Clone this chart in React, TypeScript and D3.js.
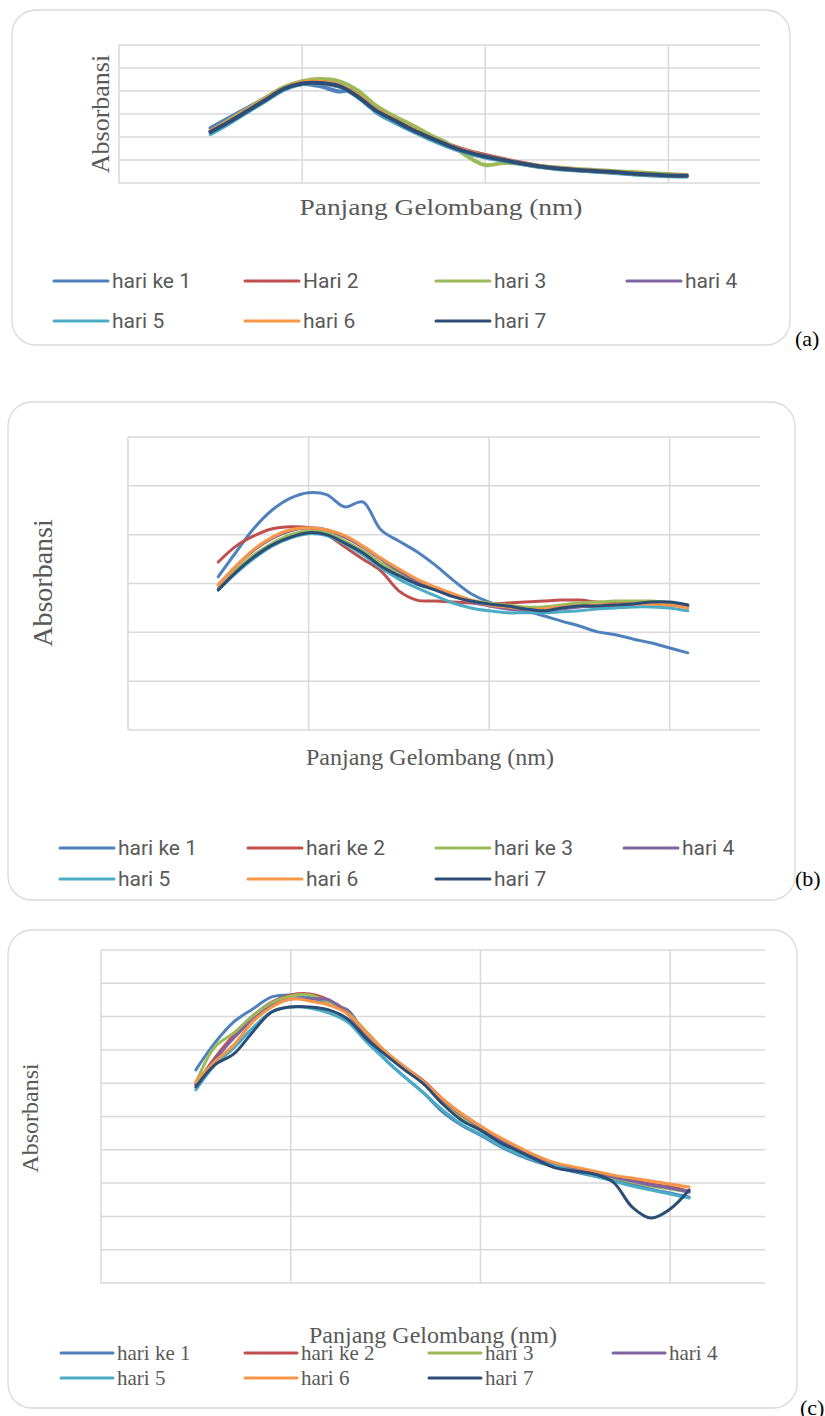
import React from "react";
import * as d3 from "d3";

// wavelength (nm) of every sample, shared by the three charts
const wavelengths = [
  350, 360, 370, 380, 390, 400, 410, 420, 430, 440, 450, 460, 470, 480,
  490, 500, 510, 520, 530, 540, 550, 560, 570, 580, 590, 600, 610,
];
const xGridTicks = [300, 400, 500, 600];

const colors = ["#4F81BD", "#C0504D", "#9BBB59", "#8064A2", "#4BACC6", "#F79646", "#2C4D75"];

// ---- chart (a)
const namesA = ["hari ke 1", "Hari 2", "hari 3", "hari 4", "hari 5", "hari 6", "hari 7"];
const a1 = [0.239, 0.283, 0.326, 0.370, 0.413, 0.430, 0.420, 0.398, 0.402, 0.310, 0.265, 0.226, 0.190, 0.157, 0.130, 0.113, 0.098, 0.083, 0.071, 0.062, 0.056, 0.050, 0.045, 0.039, 0.035, 0.031, 0.029];
const a2 = [0.226, 0.270, 0.317, 0.363, 0.409, 0.432, 0.433, 0.420, 0.380, 0.322, 0.278, 0.236, 0.200, 0.168, 0.142, 0.122, 0.104, 0.088, 0.074, 0.064, 0.058, 0.053, 0.048, 0.042, 0.038, 0.034, 0.033];
const a3 = [0.226, 0.274, 0.322, 0.370, 0.417, 0.443, 0.452, 0.443, 0.404, 0.339, 0.291, 0.252, 0.209, 0.170, 0.117, 0.078, 0.087, 0.083, 0.074, 0.067, 0.061, 0.057, 0.052, 0.048, 0.043, 0.039, 0.035];
const a4 = [0.226, 0.268, 0.315, 0.362, 0.410, 0.435, 0.438, 0.424, 0.382, 0.320, 0.276, 0.234, 0.196, 0.164, 0.137, 0.116, 0.100, 0.085, 0.072, 0.063, 0.057, 0.052, 0.047, 0.041, 0.036, 0.032, 0.031];
const a5 = [0.213, 0.258, 0.307, 0.356, 0.405, 0.430, 0.433, 0.420, 0.375, 0.312, 0.268, 0.228, 0.190, 0.158, 0.131, 0.111, 0.096, 0.082, 0.069, 0.060, 0.054, 0.049, 0.044, 0.038, 0.033, 0.029, 0.028];
const a6 = [0.226, 0.270, 0.318, 0.366, 0.412, 0.437, 0.440, 0.426, 0.384, 0.322, 0.278, 0.236, 0.198, 0.165, 0.138, 0.117, 0.101, 0.086, 0.073, 0.064, 0.058, 0.053, 0.048, 0.042, 0.037, 0.034, 0.033];
const a7 = [0.222, 0.265, 0.313, 0.361, 0.409, 0.433, 0.435, 0.422, 0.378, 0.317, 0.274, 0.232, 0.196, 0.163, 0.135, 0.115, 0.100, 0.085, 0.072, 0.063, 0.057, 0.052, 0.048, 0.041, 0.037, 0.033, 0.032];

// ---- chart (b)
const namesB = ["hari ke 1", "hari ke 2", "hari ke 3", "hari 4", "hari 5", "hari 6", "hari 7"];
const b1 = [0.314, 0.365, 0.414, 0.451, 0.475, 0.486, 0.482, 0.457, 0.467, 0.410, 0.387, 0.365, 0.338, 0.307, 0.279, 0.262, 0.252, 0.244, 0.234, 0.223, 0.213, 0.201, 0.195, 0.186, 0.178, 0.168, 0.158];
const b2 = [0.344, 0.377, 0.398, 0.412, 0.416, 0.414, 0.400, 0.375, 0.350, 0.326, 0.285, 0.266, 0.264, 0.262, 0.260, 0.258, 0.260, 0.262, 0.264, 0.266, 0.266, 0.262, 0.260, 0.260, 0.260, 0.258, 0.256];
const b3 = [0.291, 0.328, 0.359, 0.383, 0.400, 0.408, 0.404, 0.387, 0.367, 0.342, 0.320, 0.301, 0.287, 0.275, 0.266, 0.260, 0.256, 0.252, 0.252, 0.256, 0.260, 0.262, 0.264, 0.264, 0.264, 0.260, 0.254];
const b4 = [0.297, 0.336, 0.369, 0.393, 0.408, 0.414, 0.410, 0.395, 0.375, 0.350, 0.326, 0.305, 0.289, 0.275, 0.262, 0.254, 0.248, 0.244, 0.244, 0.248, 0.252, 0.254, 0.256, 0.258, 0.258, 0.256, 0.252];
const b5 = [0.287, 0.322, 0.352, 0.377, 0.393, 0.402, 0.398, 0.381, 0.359, 0.332, 0.309, 0.291, 0.275, 0.260, 0.250, 0.244, 0.240, 0.240, 0.240, 0.242, 0.244, 0.248, 0.250, 0.252, 0.252, 0.250, 0.244];
const b6 = [0.297, 0.336, 0.371, 0.395, 0.410, 0.414, 0.410, 0.398, 0.377, 0.352, 0.330, 0.309, 0.293, 0.279, 0.266, 0.256, 0.252, 0.248, 0.248, 0.252, 0.254, 0.256, 0.256, 0.258, 0.258, 0.256, 0.250];
const b7 = [0.287, 0.324, 0.355, 0.379, 0.395, 0.404, 0.400, 0.383, 0.363, 0.336, 0.316, 0.299, 0.287, 0.273, 0.264, 0.258, 0.254, 0.248, 0.244, 0.250, 0.254, 0.254, 0.256, 0.258, 0.262, 0.262, 0.256];

// ---- chart (c)
const namesC = ["hari ke 1", "hari ke 2", "hari 3", "hari 4", "hari 5", "hari 6", "hari 7"];
const c1 = [0.640, 0.721, 0.784, 0.823, 0.859, 0.865, 0.859, 0.835, 0.820, 0.736, 0.670, 0.619, 0.571, 0.514, 0.474, 0.444, 0.411, 0.384, 0.363, 0.348, 0.333, 0.321, 0.309, 0.297, 0.282, 0.270, 0.258];
const c2 = [0.595, 0.676, 0.745, 0.802, 0.844, 0.865, 0.868, 0.850, 0.814, 0.751, 0.694, 0.649, 0.607, 0.553, 0.508, 0.471, 0.435, 0.405, 0.378, 0.357, 0.342, 0.330, 0.318, 0.309, 0.297, 0.288, 0.276];
const c3 = [0.601, 0.709, 0.751, 0.802, 0.841, 0.862, 0.865, 0.844, 0.811, 0.754, 0.694, 0.646, 0.601, 0.544, 0.495, 0.459, 0.426, 0.396, 0.369, 0.351, 0.339, 0.324, 0.315, 0.303, 0.291, 0.282, 0.273];
const c4 = [0.595, 0.670, 0.736, 0.790, 0.832, 0.853, 0.853, 0.850, 0.808, 0.745, 0.688, 0.643, 0.601, 0.550, 0.505, 0.468, 0.432, 0.402, 0.375, 0.357, 0.342, 0.330, 0.318, 0.306, 0.294, 0.285, 0.273];
const c5 = [0.580, 0.655, 0.706, 0.766, 0.814, 0.829, 0.826, 0.811, 0.784, 0.724, 0.670, 0.619, 0.571, 0.520, 0.477, 0.447, 0.414, 0.387, 0.366, 0.351, 0.336, 0.321, 0.306, 0.291, 0.279, 0.267, 0.255];
const c6 = [0.604, 0.664, 0.715, 0.784, 0.829, 0.853, 0.847, 0.835, 0.808, 0.751, 0.694, 0.649, 0.604, 0.553, 0.508, 0.471, 0.438, 0.408, 0.381, 0.360, 0.348, 0.336, 0.324, 0.315, 0.306, 0.297, 0.288];
const c7 = [0.589, 0.655, 0.688, 0.754, 0.814, 0.829, 0.829, 0.820, 0.793, 0.733, 0.685, 0.640, 0.598, 0.538, 0.489, 0.459, 0.423, 0.396, 0.369, 0.345, 0.336, 0.327, 0.303, 0.228, 0.195, 0.222, 0.279];

const panels = [
  {
    key: "a",
    box: { x: 12, y: 10, w: 778, h: 335 },
    plot: { l: 119, r: 760, t: 45, b: 183 },
    yMax: 0.6,
    series: [a1, a2, a3, a4, a5, a6, a7],
    names: namesA,
    lineW: 4,
    xTitle: { x: 441, y: 215, size: 23, len: 283 },
    yTitle: { x: 100, y: 114, size: 26 },
    legend: { x0: 54, dx: 191, y0: 281, dy: 40, len: 54, font: "Roboto, sans-serif", size: 21 },
    label: { x: 795, y: 346, text: "(a)" },
  },
  {
    key: "b",
    box: { x: 8, y: 402, w: 787, h: 498 },
    plot: { l: 128, r: 760, t: 437, b: 730 },
    yMax: 0.6,
    series: [b1, b2, b3, b4, b5, b6, b7],
    names: namesB,
    lineW: 3,
    xTitle: { x: 430, y: 765, size: 24, len: 0 },
    yTitle: { x: 42, y: 583, size: 28 },
    legend: { x0: 60, dx: 188, y0: 848, dy: 31, len: 54, font: "Roboto, sans-serif", size: 21 },
    label: { x: 795, y: 886, text: "(b)" },
  },
  {
    key: "c",
    box: { x: 8, y: 930, w: 789, h: 478 },
    plot: { l: 101, r: 765, t: 950, b: 1283 },
    yMax: 1.0,
    series: [c1, c2, c3, c4, c5, c6, c7],
    names: namesC,
    lineW: 3,
    xTitle: { x: 433, y: 1343, size: 24, len: 0 },
    yTitle: { x: 30, y: 1118, size: 24 },
    legend: { x0: 61, dx: 184, y0: 1353, dy: 25, len: 52, font: "'Liberation Serif', 'Times New Roman', serif", size: 21 },
    label: { x: 800, y: 1415, text: "(c)" },
  },
];

const grey = "#595959";
const gridColor = "#d9d9d9";
const serif = "'Liberation Serif', 'Times New Roman', serif";

function Panel({ p }: { p: any }) {
  const x = d3.scaleLinear().domain([300, 650]).range([p.plot.l, p.plot.r]);
  const y = d3.scaleLinear().domain([0, p.yMax]).range([p.plot.b, p.plot.t]);
  const yTicks = d3.range(0, p.yMax + 1e-9, 0.1);
  const line = d3
    .line<number>()
    .x((_, i) => x(wavelengths[i]))
    .y((d) => y(d))
    .curve(d3.curveCatmullRom.alpha(0.5));

  return (
    <g>
      <rect
        x={p.box.x}
        y={p.box.y}
        width={p.box.w}
        height={p.box.h}
        rx={24}
        fill="#fff"
        stroke={gridColor}
        strokeWidth={1.3}
      />
      {/* gridlines */}
      {yTicks.map((t: number, i: number) => (
        <line key={"h" + i} x1={p.plot.l} x2={p.plot.r} y1={y(t)} y2={y(t)} stroke={gridColor} strokeWidth={1.5} />
      ))}
      {xGridTicks.map((t, i) => (
        <line key={"v" + i} x1={x(t)} x2={x(t)} y1={p.plot.t} y2={p.plot.b} stroke={gridColor} strokeWidth={1.5} />
      ))}
      {/* series */}
      {p.series.map((s: number[], i: number) => (
        <path
          key={"s" + i}
          d={line(s) || ""}
          fill="none"
          stroke={colors[i]}
          strokeWidth={p.lineW}
          strokeLinecap="round"
          strokeLinejoin="round"
        />
      ))}
      {/* axis titles */}
      <text
        x={p.xTitle.x}
        y={p.xTitle.y}
        textAnchor="middle"
        fontFamily={serif}
        fontSize={p.xTitle.size}
        fill={grey}
        {...(p.xTitle.len ? { textLength: p.xTitle.len, lengthAdjust: "spacingAndGlyphs" } : {})}
      >
        Panjang Gelombang (nm)
      </text>
      <text
        x={p.yTitle.x}
        y={p.yTitle.y}
        textAnchor="middle"
        dominantBaseline="central"
        transform={`rotate(-90, ${p.yTitle.x}, ${p.yTitle.y})`}
        fontFamily={serif}
        fontSize={p.yTitle.size}
        fill={grey}
      >
        Absorbansi
      </text>
      {/* legend */}
      {p.names.map((n: string, i: number) => {
        const lx = p.legend.x0 + (i % 4) * p.legend.dx;
        const ly = p.legend.y0 + Math.floor(i / 4) * p.legend.dy;
        return (
          <g key={"l" + i}>
            <line x1={lx} x2={lx + p.legend.len} y1={ly} y2={ly} stroke={colors[i]} strokeWidth={3} strokeLinecap="round" />
            <text
              x={lx + p.legend.len + 4}
              y={ly}
              dominantBaseline="central"
              fontFamily={p.legend.font}
              fontSize={p.legend.size}
              fill={grey}
            >
              {n}
            </text>
          </g>
        );
      })}
      <text x={p.label.x} y={p.label.y} fontFamily={serif} fontSize={22} fill="#000">
        {p.label.text}
      </text>
    </g>
  );
}

export default function App() {
  return (
    <svg
      width={825}
      height={1416}
      style={{ position: "absolute", left: 0, top: 0, background: "#fff" }}
    >
      {panels.map((p) => (
        <Panel key={p.key} p={p} />
      ))}
    </svg>
  );
}
